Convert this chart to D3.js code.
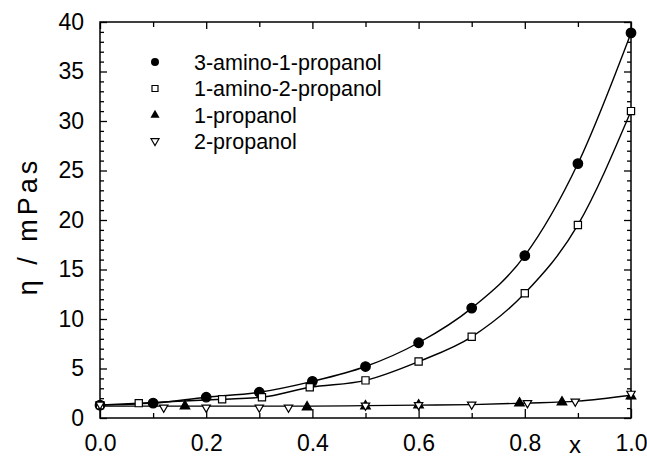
<html>
<head>
<style>
  body { margin: 0; background: #fff; }
  text { font-family: "Liberation Sans", Arial, sans-serif; fill: #000; }
  .axis path { display: none; }
  .axis line { stroke: #000; stroke-width: 1.3; }
  .axis text { font-size: 23px; font-family: "Liberation Sans", Arial, sans-serif; }
  .fit { fill: none; stroke: #000; stroke-width: 1.4; }
</style>
</head>
<body>
<svg id="chart" width="647" height="459"></svg>
<script src="https://d3js.org/d3.v7.min.js"></script>
<script>
// data
const names = ["3-amino-1-propanol", "1-amino-2-propanol", "1-propanol", "2-propanol"];

const ap31X   = [0, 0.1, 0.2, 0.3, 0.4, 0.5, 0.6, 0.7, 0.8, 0.9, 1.0];
const ap31Eta = [1.3, 1.5, 2.1, 2.6, 3.7, 5.2, 7.6, 11.1, 16.4, 25.7, 38.9];

const ap12X   = [0, 0.073, 0.23, 0.305, 0.395, 0.5, 0.6, 0.7, 0.8, 0.9, 1.0];
const ap12Eta = [1.3, 1.5, 1.9, 2.1, 3.1, 3.8, 5.7, 8.2, 12.6, 19.5, 31.0];

const prop1X   = [0.16, 0.39, 0.5, 0.6, 0.79, 0.87, 1.0];
const prop1Eta = [1.2, 1.1, 1.2, 1.3, 1.5, 1.6, 2.2];

const prop2X   = [0, 0.12, 0.2, 0.3, 0.355, 0.5, 0.6, 0.7, 0.805, 0.895, 1.0];
const prop2Eta = [1.3, 1.0, 1.0, 1.0, 1.0, 1.2, 1.25, 1.3, 1.45, 1.6, 2.4];

// fitted curve of the two propanols
const propFitX   = [0, 0.2, 0.4, 0.5, 0.6, 0.7, 0.8, 0.9, 1.0];
const propFitEta = [1.2, 1.2, 1.2, 1.25, 1.3, 1.35, 1.5, 1.7, 2.3];

const xTicks = [0, 0.2, 0.4, 0.6, 0.8, 1.0];
const yTicks = [0, 5, 10, 15, 20, 25, 30, 35, 40];

const zip = (xs, ys) => xs.map((x, i) => ({x: x, y: ys[i]}));

const svg = d3.select("#chart");
const mLeft = 100, mRight = 631, mTop = 22, mBottom = 418;

const xScale = d3.scaleLinear().domain([0, 1]).range([mLeft, mRight]);
const yScale = d3.scaleLinear().domain([0, 40]).range([mBottom, mTop]);

const xMinor = [0.1, 0.3, 0.5, 0.7, 0.9];
const yMinor = d3.range(0, 41, 1).filter(v => v % 5 !== 0);

// axes
svg.append("g").attr("class", "axis").attr("transform", `translate(0,${mBottom})`)
  .call(d3.axisBottom(xScale).tickValues(xTicks).tickFormat(d3.format(".1f")).tickSize(-9).tickPadding(17));
svg.append("g").attr("class", "axis").attr("transform", `translate(0,${mBottom})`)
  .call(d3.axisBottom(xScale).tickValues(xMinor).tickFormat("").tickSize(-5));
svg.append("g").attr("class", "axis").attr("transform", `translate(0,${mTop})`)
  .call(d3.axisTop(xScale).tickValues(xTicks).tickFormat("").tickSize(-7));
svg.append("g").attr("class", "axis").attr("transform", `translate(0,${mTop})`)
  .call(d3.axisTop(xScale).tickValues(xMinor).tickFormat("").tickSize(-5));

svg.append("g").attr("class", "axis").attr("transform", `translate(${mLeft},0)`)
  .call(d3.axisLeft(yScale).tickValues(yTicks).tickSize(-7).tickPadding(16));
svg.append("g").attr("class", "axis").attr("transform", `translate(${mLeft},0)`)
  .call(d3.axisLeft(yScale).tickValues(yMinor).tickFormat("").tickSize(-4));
svg.append("g").attr("class", "axis").attr("transform", `translate(${mRight},0)`)
  .call(d3.axisRight(yScale).tickValues(yTicks).tickFormat("").tickSize(-7));
svg.append("g").attr("class", "axis").attr("transform", `translate(${mRight},0)`)
  .call(d3.axisRight(yScale).tickValues(yMinor).tickFormat("").tickSize(-4));

// frame
svg.append("rect").attr("x", mLeft).attr("y", mTop)
  .attr("width", mRight - mLeft).attr("height", mBottom - mTop)
  .attr("fill", "none").attr("stroke", "#000").attr("stroke-width", 1.5);

// axis titles
svg.append("text").attr("x", 575).attr("y", 453).attr("text-anchor", "middle")
  .style("font-size", "24px").text("x");
svg.append("text").attr("transform", "translate(37,226) rotate(-90)")
  .attr("text-anchor", "middle").style("font-size", "27px")
  .style("letter-spacing", "4px").text("η / mPas");

// curves
const line = d3.line().x(d => xScale(d.x)).y(d => yScale(d.y)).curve(d3.curveMonotoneX);
svg.append("path").datum(zip(ap31X, ap31Eta)).attr("class", "fit").attr("d", line);
svg.append("path").datum(zip(ap12X, ap12Eta)).attr("class", "fit").attr("d", line);
svg.append("path").datum(zip(propFitX, propFitEta)).attr("class", "fit").attr("d", line);

// markers
const downPath = "M-4.2,-3L4.2,-3L0,4.2Z";

function drawSeries(data, kind) {
  const s = svg.append("g").selectAll("path").data(data).join("path")
    .attr("transform", d => `translate(${xScale(d.x)},${yScale(d.y)})`)
    .attr("stroke", "#000").attr("stroke-width", 1.2);
  if (kind === "circle") s.attr("d", d3.symbol().type(d3.symbolCircle).size(72)()).attr("fill", "#000");
  if (kind === "square") s.attr("d", d3.symbol().type(d3.symbolSquare).size(52)()).attr("fill", "#fff");
  if (kind === "up") s.attr("d", d3.symbol().type(d3.symbolTriangle).size(40)()).attr("fill", "#000");
  if (kind === "down") s.attr("d", downPath).attr("fill", "#fff");
}
drawSeries(zip(ap31X, ap31Eta), "circle");
drawSeries(zip(ap12X, ap12Eta), "square");
drawSeries(zip(prop1X, prop1Eta), "up");
drawSeries(zip(prop2X, prop2Eta), "down");

// legend
const kinds = ["circle", "square", "up", "down"];
const legend = svg.append("g");
names.forEach((n, i) => {
  const ly = 62 + i * 26.5;
  const p = legend.append("path").attr("transform", `translate(155,${ly})`);
  if (kinds[i] === "circle") p.attr("d", d3.symbol().type(d3.symbolCircle).size(50)()).attr("fill", "#000");
  if (kinds[i] === "square") p.attr("d", d3.symbol().type(d3.symbolSquare).size(36)()).attr("fill", "#fff").attr("stroke", "#000").attr("stroke-width", 1.2);
  if (kinds[i] === "up") p.attr("d", d3.symbol().type(d3.symbolTriangle).size(36)()).attr("fill", "#000");
  if (kinds[i] === "down") p.attr("d", "M-4,-2.8L4,-2.8L0,4Z").attr("fill", "#fff").attr("stroke", "#000").attr("stroke-width", 1.2);
  legend.append("text").attr("x", 194).attr("y", ly).attr("dy", "0.36em")
    .style("font-size", "21.5px").text(n);
});
</script>
</body>
</html>
